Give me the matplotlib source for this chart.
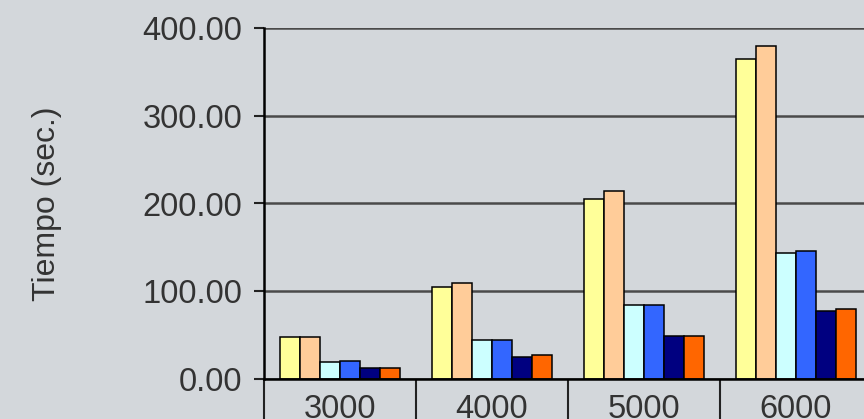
import matplotlib.pyplot as plt
import numpy as np

# datos
categorias = ["3000", "4000", "5000", "6000"]
serie1 = [48, 105, 205, 365]
serie2 = [48, 109, 214, 379]
serie3 = [19, 45, 84, 144]
serie4 = [21, 45, 84, 146]
serie5 = [12, 25, 49, 78]
serie6 = [12, 27, 49, 80]
series = [serie1, serie2, serie3, serie4, serie5, serie6]
colores = ["#FFFF99", "#FFCC99", "#CCFFFF", "#3366FF", "#000080", "#FF6600"]

fondo = "#D3D7DB"
plt.rcParams['font.family'] = ['Liberation Sans', 'DejaVu Sans']

fig = plt.figure(figsize=(8.64, 4.19), dpi=100)
fig.patch.set_facecolor(fondo)
# el eje sigue más allá del borde derecho, como en el original
ax = fig.add_axes([264 / 864, 40 / 419, 608 / 864, 351 / 419])
ax.set_facecolor(fondo)

x = np.arange(len(categorias))
ancho = 20 / 152
for i, (vals, col) in enumerate(zip(series, colores)):
    ax.bar(x + (i - 2.5) * ancho, vals, ancho, color=col, edgecolor="black",
           linewidth=1.1, zorder=3)

ax.set_xlim(-0.5, 3.5)
ax.set_ylim(0, 400)

ax.set_yticks([0, 100, 200, 300, 400])
ax.set_yticklabels([f"{v:.2f}" for v in [0, 100, 200, 300, 400]])
ax.yaxis.grid(True, color="#4a4a4a", linewidth=1.8, zorder=1)
ax.tick_params(axis="y", length=7.5, width=1.5, color="#222222", pad=8,
               labelsize=23.5, labelcolor="#333333")

ax.set_xticks(x)
ax.set_xticklabels(categorias)
ax.tick_params(axis="x", which="major", length=0, pad=11, labelsize=23.5,
               labelcolor="#333333")
ax.set_xticks(np.arange(-0.5, 4.0, 1.0), minor=True)
ax.tick_params(axis="x", which="minor", length=40, width=1.5, color="#222222")

for s in ["top", "right"]:
    ax.spines[s].set_visible(False)
ax.spines["left"].set_linewidth(1.8)
ax.spines["bottom"].set_linewidth(1.8)
ax.spines["left"].set_zorder(4)
ax.spines["bottom"].set_zorder(4)

ax.set_ylabel("Tiempo (sec.)", fontsize=23, color="#333333", labelpad=58)

fig.savefig("out.png", dpi=100, facecolor=fondo)
